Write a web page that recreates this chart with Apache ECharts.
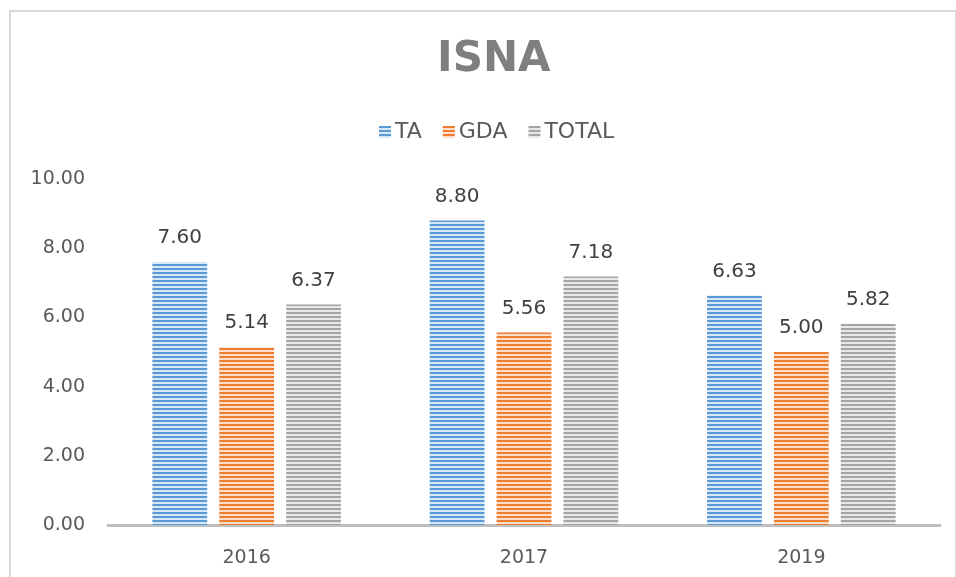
<!DOCTYPE html>
<html><head><meta charset="utf-8">
<script src="https://cdn.jsdelivr.net/npm/echarts@6/dist/echarts.min.js"></script>
<style>html,body{margin:0;padding:0;background:#fff}#c{width:956px;height:577px}</style>
</head><body><div id="c"></div>
<script>
const categories = ['2016', '2017', '2019'];
const seriesNames = ['TA', 'GDA', 'TOTAL'];
const taValues = [7.60, 8.80, 6.63];
const gdaValues = [5.14, 5.56, 5.00];
const totalValues = [6.37, 7.18, 5.82];
const yTicks = [0, 2, 4, 6, 8, 10];

function stripe(dark, light) {
  const c = document.createElement('canvas');
  c.width = 4; c.height = 4;
  const g = c.getContext('2d');
  g.fillStyle = light; g.fillRect(0, 0, 4, 4);
  g.fillStyle = dark; g.fillRect(0, 0, 4, 2);
  return { image: c, repeat: 'repeat' };
}
const patterns = [
  stripe('#5b9bd5', '#d7e7f6'),
  stripe('#ed7d31', '#fbdecb'),
  stripe('#a5a5a5', '#e8e8e8')
];
const values = [taValues, gdaValues, totalValues];

const chart = echarts.init(document.getElementById('c'));
chart.setOption({
  animation: false,
  backgroundColor: '#fff',
  title: {
    text: 'ISNA', left: 432, top: 34,
    textStyle: { fontFamily: 'DejaVu Sans', fontSize: 42, fontWeight: 'bold', color: '#7f7f7f' }
  },
  legend: {
    data: seriesNames, top: 116, left: 374,
    itemWidth: 12, itemHeight: 12, itemGap: 21,
    icon: 'rect',
    textStyle: { fontFamily: 'DejaVu Sans', fontSize: 22, color: '#595959', padding: [0, 0, 0, -1] }
  },
  graphic: [{
    type: 'rect', shape: { x: 10, y: 11, width: 946, height: 600 },
    style: { fill: 'none', stroke: '#d9d9d9', lineWidth: 2 }, silent: true
  }],
  grid: { left: 108, right: 16, top: 179, bottom: 52 },
  xAxis: {
    type: 'category', data: categories,
    axisLine: { lineStyle: { color: '#bfbfbf', width: 3 } },
    axisTick: { show: false },
    axisLabel: { fontFamily: 'DejaVu Sans', fontSize: 19, color: '#595959', margin: 24 }
  },
  yAxis: {
    type: 'value', min: yTicks[0], max: yTicks[yTicks.length - 1], interval: 2,
    splitLine: { show: false },
    axisLine: { show: false }, axisTick: { show: false },
    axisLabel: { fontFamily: 'DejaVu Sans', fontSize: 19, color: '#595959', margin: 23,
      formatter: v => v.toFixed(2) }
  },
  series: seriesNames.map((n, i) => ({
    name: n, type: 'bar', data: values[i],
    barGap: '22%', barCategoryGap: '32%',
    itemStyle: { color: patterns[i] },
    label: { show: true, position: 'top', distance: 14, fontFamily: 'DejaVu Sans', fontSize: 20,
      color: '#404040', formatter: p => p.value.toFixed(2) }
  }))
});
</script></body></html>
